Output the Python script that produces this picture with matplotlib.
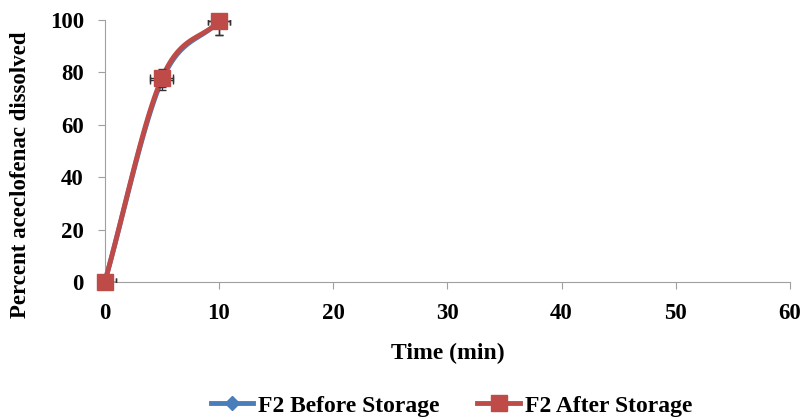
import numpy as np
import matplotlib
matplotlib.use("Agg")
import matplotlib.pyplot as plt
from matplotlib.lines import Line2D

time_min = [0, 5, 10]
before_storage = [0, 77.0, 99.5]
after_storage = [0, 77.8, 99.5]
y_err = [0, 3.5, 5.0]
x_err = [1.0, 1.0, 1.0]

plt.rcParams['font.family'] = ['Liberation Serif', 'DejaVu Serif']
plt.rcParams['font.weight'] = 'bold'

def catmull(x, y, n=40):
    x = np.asarray(x, float); y = np.asarray(y, float)
    px = np.concatenate([[2*x[0]-x[1]], x, [2*x[-1]-x[-2]]])
    py = np.concatenate([[2*y[0]-y[1]], y, [2*y[-1]-y[-2]]])
    xs, ys = [], []
    for i in range(1, len(px)-2):
        t = np.linspace(0, 1, n)
        for arr, out in ((px, xs), (py, ys)):
            p0, p1, p2, p3 = arr[i-1], arr[i], arr[i+1], arr[i+2]
            out.extend(0.5*((2*p1) + (-p0+p2)*t + (2*p0-5*p1+4*p2-p3)*t**2 + (-p0+3*p1-3*p2+p3)*t**3))
    return np.array(xs), np.array(ys)

fig = plt.figure(figsize=(8.06, 4.19), dpi=100)
ax = fig.add_axes([0.130, 0.327, 0.850, 0.625])

blue = '#4A7EBB'
red = '#BE4B48'

bx, by = catmull(time_min, before_storage)
ax.plot(bx, by, color=blue, lw=3.5, zorder=2, clip_on=False)
ax.errorbar(time_min, before_storage, yerr=y_err, xerr=x_err, fmt='none',
            ecolor='#333333', elinewidth=1, capsize=3, zorder=3)
ax.plot(time_min, before_storage, 'D', color=blue, ms=7, zorder=4, clip_on=False)

rx, ry = catmull(time_min, after_storage)
ax.plot(rx, ry, color=red, lw=3.5, zorder=5, clip_on=False)
ax.errorbar(time_min, after_storage, yerr=y_err, xerr=x_err, fmt='none',
            ecolor='#333333', elinewidth=1, capsize=3, zorder=6)
ax.plot(time_min, after_storage, 's', color=red, ms=11, zorder=7, clip_on=False)

ax.set_xlim(0, 60)
ax.set_ylim(0, 100)
ax.set_xticks(range(0, 61, 10))
ax.set_yticks(range(0, 101, 20))
for s in ['top', 'right']:
    ax.spines[s].set_visible(False)
for s in ['left', 'bottom']:
    ax.spines[s].set_color('#A0A0A0')
ax.tick_params(axis='both', colors='#A0A0A0', labelcolor='black', labelsize=16.5, length=5)
ax.tick_params(axis='x', pad=10)
ax.tick_params(axis='y', pad=10)

ax.set_xlabel('Time (min)', fontsize=17, fontweight='bold', labelpad=14)
ax.set_ylabel('Percent aceclofenac dissolved', fontsize=16.5, fontweight='bold')
ax.yaxis.set_label_coords(-0.107, 0.41)

handles = [Line2D([0], [0], color=blue, lw=3.5, marker='D', ms=7),
           Line2D([0], [0], color=red, lw=3.5, marker='s', ms=11)]
fig.legend(handles, ['F2 Before Storage', 'F2 After Storage'], loc='lower center',
           bbox_to_anchor=(0.56, -0.045), ncol=2, frameon=False, fontsize=17,
           handlelength=1.8, handletextpad=0.2, columnspacing=1.6)

fig.savefig('out.png', dpi=100)
